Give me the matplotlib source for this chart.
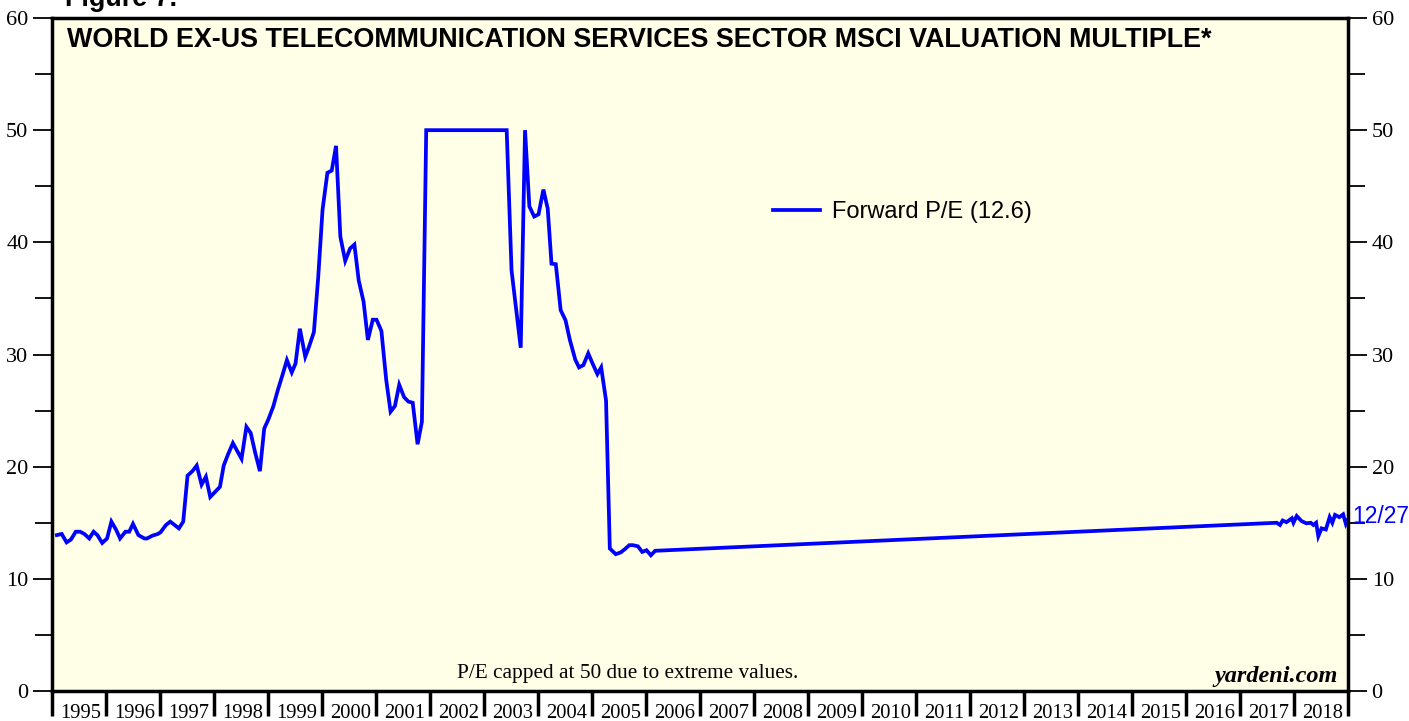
import matplotlib
matplotlib.use("Agg")
import matplotlib.pyplot as plt
from matplotlib.ticker import MultipleLocator, FixedLocator, NullFormatter

# forward P/E (decimal year, value); P/E capped at 50
years = [1995.09, 1995.18, 1995.27, 1995.35, 1995.44, 1995.52, 1995.60, 1995.69,
         1995.77, 1995.84, 1995.93, 1996.02, 1996.10, 1996.19, 1996.26, 1996.36,
         1996.43, 1996.50, 1996.60, 1996.71, 1996.76, 1996.86, 1996.96, 1997.01,
         1997.11, 1997.19, 1997.35, 1997.43, 1997.51, 1997.60, 1997.68, 1997.77,
         1997.85, 1997.93, 1998.02, 1998.11, 1998.18, 1998.26, 1998.35, 1998.43,
         1998.51, 1998.60, 1998.68, 1998.76, 1998.85, 1998.93, 1999.01, 1999.10,
         1999.18, 1999.27, 1999.35, 1999.44, 1999.51, 1999.59, 1999.69, 1999.76,
         1999.85, 1999.93, 2000.01, 2000.10, 2000.18, 2000.26, 2000.34, 2000.43,
         2000.52, 2000.60, 2000.68, 2000.77, 2000.85, 2000.94, 2001.01, 2001.10,
         2001.19, 2001.27, 2001.35, 2001.43, 2001.52, 2001.60, 2001.68, 2001.77,
         2001.85, 2001.93, 2003.42, 2003.51, 2003.68, 2003.76, 2003.84, 2003.93,
         2004.01, 2004.10, 2004.18, 2004.25, 2004.33, 2004.42, 2004.51, 2004.59,
         2004.69, 2004.76, 2004.84, 2004.93, 2005.01, 2005.10, 2005.17, 2005.26,
         2005.33, 2005.44, 2005.53, 2005.61, 2005.69, 2005.76, 2005.85, 2005.93,
         2006.01, 2006.09, 2006.17,
         2017.68, 2017.74, 2017.79, 2017.86, 2017.96, 2017.99, 2018.05, 2018.14,
         2018.23, 2018.31, 2018.36, 2018.41, 2018.45, 2018.51, 2018.59, 2018.66,
         2018.71, 2018.76, 2018.84, 2018.91, 2018.96, 2018.99]
pe = [13.9, 14.0, 13.25, 13.5, 14.2, 14.2, 14.0, 13.6,
      14.2, 13.9, 13.2, 13.6, 15.1, 14.35, 13.6, 14.2,
      14.2, 14.9, 13.9, 13.6, 13.6, 13.85, 14.0, 14.15,
      14.8, 15.1, 14.5, 15.1, 19.2, 19.6, 20.1, 18.4,
      19.1, 17.3, 17.75, 18.2, 20.1, 21.1, 22.1, 21.4,
      20.7, 23.55, 23.0, 21.3, 19.6, 23.4, 24.25, 25.4,
      26.8, 28.2, 29.5, 28.4, 29.2, 32.3, 29.8, 30.7,
      32.0, 36.9, 42.9, 46.2, 46.4, 48.6, 40.5, 38.35,
      39.45, 39.8, 36.6, 34.7, 31.3, 33.1, 33.1, 32.1,
      27.7, 24.9, 25.4, 27.3, 26.2, 25.8, 25.7, 22.0,
      24.0, 50.0, 50.0, 37.5, 30.6, 50.0, 43.2, 42.3,
      42.5, 44.7, 43.0, 38.1, 38.05, 33.95, 33.05, 31.3,
      29.55, 28.85, 29.05, 30.1, 29.2, 28.25, 28.85, 25.9,
      12.7, 12.2, 12.35, 12.65, 13.0, 13.0, 12.9, 12.4,
      12.55, 12.1, 12.5,
      15.0, 14.8, 15.2, 15.05, 15.4, 15.0, 15.6, 15.15,
      14.95, 15.0, 14.8, 15.0, 13.8, 14.5, 14.4, 15.5,
      15.0, 15.7, 15.5, 15.75, 14.9, 15.2]

year_labels = [str(y) for y in range(1995, 2019)]
last_date = "12/27"
legend_label = "Forward P/E (12.6)"
title = "WORLD EX-US TELECOMMUNICATION SERVICES SECTOR MSCI VALUATION MULTIPLE*"
note = "P/E capped at 50 due to extreme values."

BG = "#fffee6"
BLUE = "#0000ff"

fig = plt.figure(figsize=(14.09, 7.21), dpi=100)
ax = fig.add_axes([52 / 1409, 30 / 721, 1296 / 1409, 673 / 721])
ax.set_facecolor(BG)

ax.plot(years, pe, color=BLUE, lw=2.7, solid_joinstyle="miter", label=legend_label)

ax.set_xlim(1995, 2019)
ax.set_ylim(0, 60)

for s in ax.spines.values():
    s.set_linewidth(2.5)

# y axis on both sides
ax.yaxis.set_major_locator(MultipleLocator(10))
ax.yaxis.set_minor_locator(MultipleLocator(5))
ax.tick_params(axis="y", which="both", left=True, right=True, labelleft=True,
               labelright=True, direction="out", width=1.3,
               labelsize=16, pad=3)
ax.tick_params(axis="y", which="major", length=14)
ax.tick_params(axis="y", which="minor", length=12)
for lab in ax.get_yticklabels():
    lab.set_fontfamily("Liberation Serif")

# x axis: ticks at year boundaries, labels at mid-year
ax.xaxis.set_major_locator(FixedLocator(list(range(1995, 2020))))
ax.xaxis.set_major_formatter(NullFormatter())
ax.xaxis.set_minor_locator(FixedLocator([y + 0.53 for y in range(1995, 2019)]))
ax.set_xticklabels(year_labels, minor=True, fontfamily="Liberation Serif", fontsize=14.8)
ax.tick_params(axis="x", which="major", direction="out", length=18, width=2.5)
ax.tick_params(axis="x", which="minor", length=0, pad=9)

ax.text(0.0116, 0.967, title, transform=ax.transAxes, ha="left", va="center",
        fontsize=19.4, fontweight="bold", fontfamily="Liberation Sans")
fig.text(65 / 1409, 1 - 6 / 721, "Figure 7.", ha="left", va="baseline",
         fontsize=19.4, fontweight="bold", fontfamily="Liberation Sans")

ax.text(0.444, 0.026, note, transform=ax.transAxes, ha="center", va="center",
        fontsize=15.3, fontfamily="Liberation Serif")
ax.text(0.992, 0.022, "yardeni.com", transform=ax.transAxes, ha="right", va="center",
        fontsize=17.5, fontweight="bold", fontstyle="italic", fontfamily="Liberation Serif")

ax.annotate(last_date, xy=(1.0, 15.6), xycoords=("axes fraction", "data"),
            xytext=(3, 0), textcoords="offset points", ha="left", va="center",
            color=BLUE, fontsize=16.5, fontfamily="Liberation Sans",
            annotation_clip=False)

leg = ax.legend(loc="center left", bbox_to_anchor=(0.5565, 0.712), frameon=False,
                handlelength=2.0, handletextpad=0.5, borderpad=0, borderaxespad=0,
                prop={"family": "Liberation Sans", "size": 17})

fig.savefig("out.png", dpi=100, facecolor="white")
